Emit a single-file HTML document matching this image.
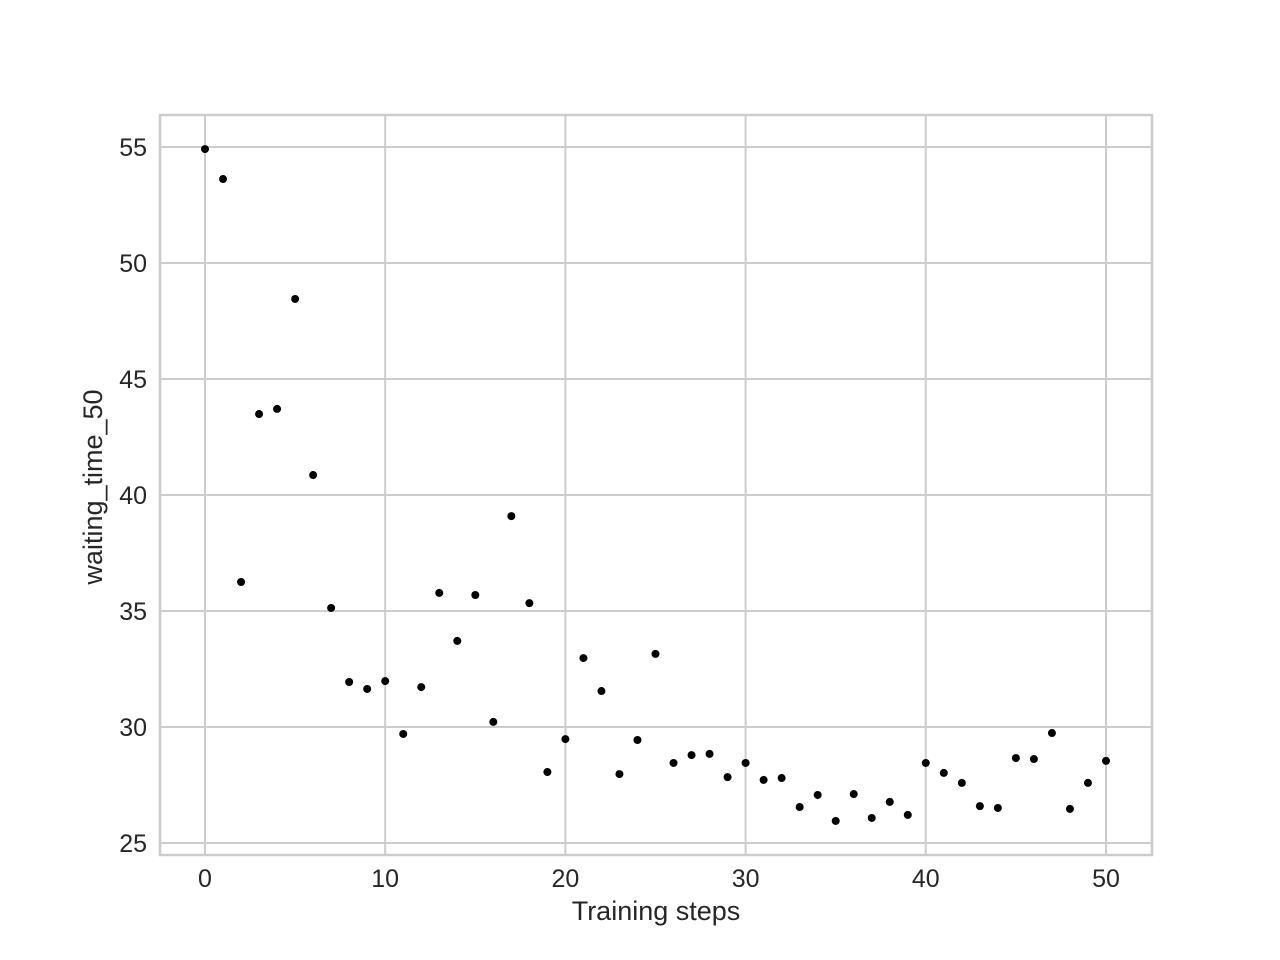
<!DOCTYPE html>
<html><head><meta charset="utf-8"><style>
html,body{margin:0;padding:0;background:#fff;}
svg{display:block;font-family:"Liberation Sans",Arial,sans-serif;}
</style></head><body>
<svg id="chart" width="1280" height="960" xmlns="http://www.w3.org/2000/svg">
<rect x="0" y="0" width="1280" height="960" fill="#fff"/>
<g id="grid"></g>
<g id="ticks"></g>
<rect x="160" y="115" width="992" height="740" fill="none" stroke="#cccccc" stroke-width="2.5"/>
<g id="points"></g>
<text x="656" y="920" text-anchor="middle" font-size="27" fill="#262626">Training steps</text>
<text transform="translate(102,487) rotate(-90)" text-anchor="middle" font-size="27" fill="#262626">waiting_time_50</text>
</svg>
<script>
const steps = [0,1,2,3,4,5,6,7,8,9,10,11,12,13,14,15,16,17,18,19,20,21,22,23,24,25,26,27,28,29,30,31,32,33,34,35,36,37,38,39,40,41,42,43,44,45,46,47,48,49,50];
const waitingTime = [54.91,53.62,36.25,43.49,43.71,48.45,40.86,35.13,31.94,31.64,31.98,29.70,31.72,35.78,33.71,35.69,30.22,39.09,35.34,28.06,29.48,32.97,31.55,27.97,29.44,33.15,28.45,28.79,28.84,27.84,28.45,27.72,27.80,26.55,27.07,25.95,27.11,26.08,26.77,26.21,28.45,28.02,27.59,26.59,26.51,28.66,28.62,29.74,26.47,27.59,28.54];
const xTicks = [0,10,20,30,40,50];
const yTicks = [25,30,35,40,45,50,55];

const NS = "http://www.w3.org/2000/svg";
function xs(v){ return 205 + (v - 0) * (1106 - 205) / 50; }
function ys(v){ return 147 + (55 - v) * (843 - 147) / 30; }
const grid = document.getElementById('grid');
const ticks = document.getElementById('ticks');
const pts = document.getElementById('points');

xTicks.forEach(t => {
  const l = document.createElementNS(NS, 'line');
  
  
  l.setAttribute('x1', xs(t)); l.setAttribute('x2', xs(t));
  l.setAttribute('y1', 115); l.setAttribute('y2', 855);
  l.setAttribute('stroke', '#cccccc'); l.setAttribute('stroke-width', '2');
  grid.appendChild(l);
  const tx = document.createElementNS(NS, 'text');
  
  
  tx.setAttribute('x', xs(t)); tx.setAttribute('y', 887);
  tx.setAttribute('text-anchor', 'middle'); tx.setAttribute('font-size', '25'); tx.setAttribute('fill', '#262626');
  tx.textContent = t;
  ticks.appendChild(tx);
});
yTicks.forEach(t => {
  const l = document.createElementNS(NS, 'line');
  
  
  l.setAttribute('x1', 160); l.setAttribute('x2', 1152);
  l.setAttribute('y1', ys(t)); l.setAttribute('y2', ys(t));
  l.setAttribute('stroke', '#cccccc'); l.setAttribute('stroke-width', '2');
  grid.appendChild(l);
  const tx = document.createElementNS(NS, 'text');
  
  
  tx.setAttribute('x', 147); tx.setAttribute('y', ys(t) + 9);
  tx.setAttribute('text-anchor', 'end'); tx.setAttribute('font-size', '25'); tx.setAttribute('fill', '#262626');
  tx.textContent = t;
  ticks.appendChild(tx);
});
steps.forEach((s, i) => {
  const c = document.createElementNS(NS, 'circle');
  
  
  c.setAttribute('cx', xs(s)); c.setAttribute('cy', ys(waitingTime[i]));
  c.setAttribute('r', 4); c.setAttribute('fill', '#000');
  pts.appendChild(c);
});
</script>
</body></html>
